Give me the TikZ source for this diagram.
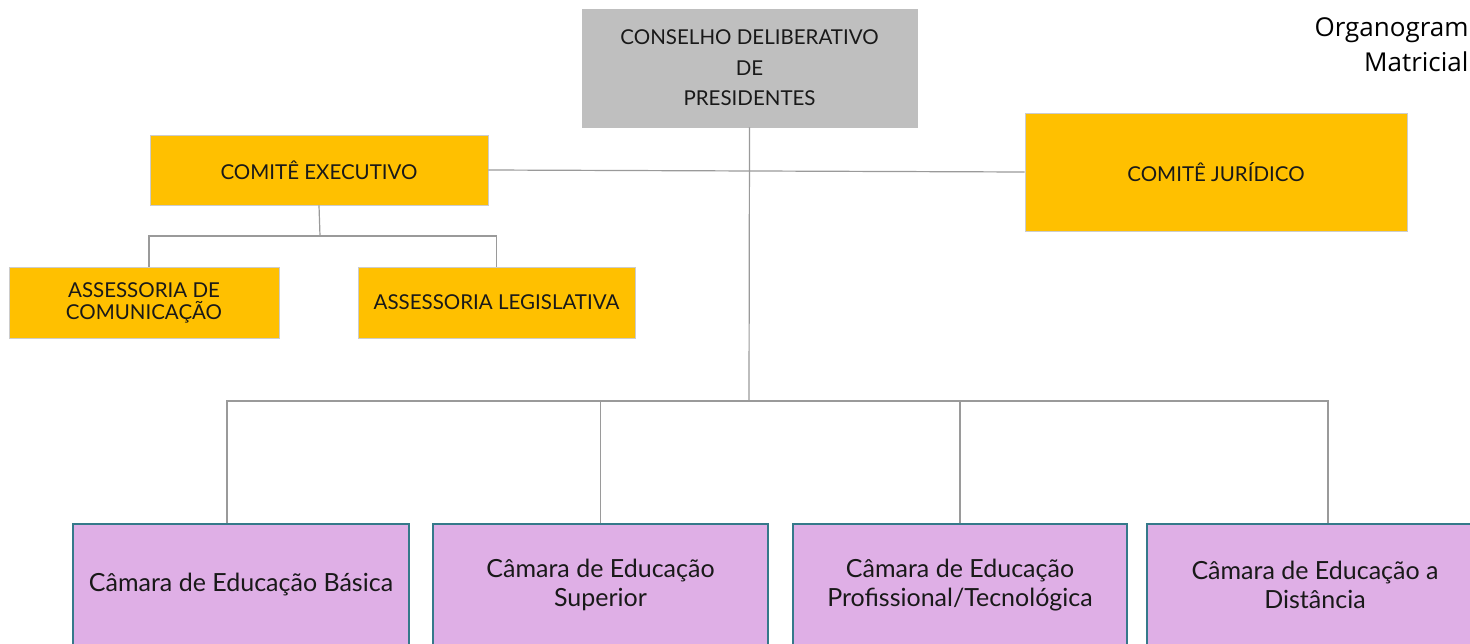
\documentclass[tikz,border=0pt]{standalone}
\usepackage{fontspec}
\setmainfont{Lato}
\newfontfamily\titlefont{Open Sans}
\definecolor{gold}{HTML}{FFC000}
\definecolor{boardgray}{HTML}{BFBFBF}
\definecolor{lilac}{HTML}{DFAFE6}
\definecolor{tealedge}{HTML}{35798A}
\definecolor{linkgray}{HTML}{9A9A9A}
\tikzset{
  unit/.style={draw=#1, line width=0.8pt, inner sep=0pt, align=center, text=black!90},
  board/.style={unit=black!25, fill=boardgray, font=\fontsize{20.5}{30.5}\selectfont},
  comite/.style={unit=black!20, fill=gold, font=\fontsize{20.5}{22}\selectfont},
  camara/.style={unit=tealedge, line width=2pt, fill=lilac, font=\fontsize{25}{29}\selectfont},
  link/.style={draw=linkgray, line width=1.2pt}
}
\begin{document}
\begin{tikzpicture}[x=1pt, y=-1pt]
                \clip (0,0) rectangle (1470,643);
                \fill[white] (0,0) rectangle (1470,643);

                % topo
                \node[board, minimum width=335, minimum height=118] (cons) at (749.5,68) {CONSELHO DELIBERATIVO\\DE\\PRESIDENTES};
                \node[comite, minimum width=338, minimum height=70] (exec) at (319,170) {COMITÊ EXECUTIVO};
                \node[comite, minimum width=382, minimum height=118] (jur) at (1216,172) {COMITÊ JURÍDICO};
                \node[comite, minimum width=270, minimum height=71] (acom) at (144,302.5) {ASSESSORIA DE\\COMUNICAÇÃO};
                \node[comite, minimum width=277, minimum height=71] (aleg) at (496.5,302.5) {ASSESSORIA LEGISLATIVA};
                \node[anchor=north east, align=right, font=\titlefont\fontsize{26}{35}\selectfont] (titulo) at (1472,14) {Organogram\\Matricial};

                % camaras
                \node[camara, minimum width=336, minimum height=122] (basica) at (241,585) {Câmara de Educação Básica};
                \node[camara, minimum width=335, minimum height=122] (superior) at (600.5,585) {Câmara de Educação\\Superior};
                \node[camara, minimum width=334, minimum height=122] (profis) at (960,585) {Câmara de Educação\\Profissional/Tecnológica};
                \node[camara, minimum width=336, minimum height=122] (distancia) at (1315,585) {Câmara de Educação a\\Distância};

                % ligacoes
                \coordinate (bus) at (749,401);
                \coordinate (ebus) at (320,236);
                \draw[link] (cons.south) -- (bus);
                \draw[link] (exec.east) -- (jur.west);
                \draw[link] (exec.south) -- (ebus);
                \draw[link] ([xshift=5pt]acom.north) |- (ebus) -| (aleg.north);
                \draw[link] ([xshift=-14pt]basica.north) |- (bus) -| ([xshift=13pt]distancia.north);
                \draw[link] (superior.north) |- (bus);
                \draw[link] (profis.north) |- (bus);
            \end{tikzpicture}
\end{document}
